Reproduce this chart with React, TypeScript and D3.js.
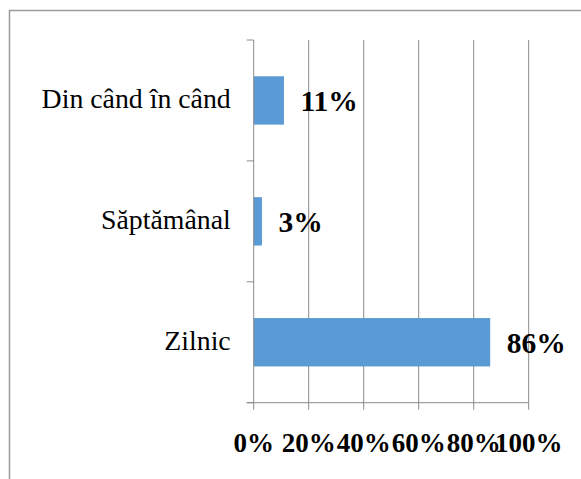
import React from 'react';
import { scaleLinear, scaleBand } from "d3";

const categories = ["Din când în când", "Săptămânal", "Zilnic"];
const values = [11, 3, 86];
const xTicks = [0, 20, 40, 60, 80, 100];

const W = 581;
const H = 479;
const margin = { left: 253.7, right: 52.3, top: 40, bottom: 76.3 };
const gridColor = "#8a8a8a";
const barColor = "#5B9BD5";
const font = "'Liberation Serif', 'Times New Roman', serif";

function App() {
    const plotW = W - margin.left - margin.right;
    const plotH = H - margin.top - margin.bottom;

    const xScale = scaleLinear()
        .domain([0, 100])
        .range([0, plotW]);

    const yScale = scaleBand()
        .domain(categories)
        .range([0, plotH])
        .paddingInner(0.6)
        .paddingOuter(0.3);

    const step = yScale.step();
    // category ticks sit on the band edges
    const yTickPos = categories.map((c, i) => i * step).concat([plotH]);

    return (
        <svg width={W} height={H} style={{ position: "absolute", left: 0, top: 0 }}>
            <rect width={W} height={H} fill="white" />
            <path d={`M9.5,${H} V10.5 H${W}`} fill="none" stroke="#9a9a9a" strokeWidth={1.5} />
            <g transform={`translate(${margin.left},${margin.top})`}>
                {xTicks.slice(1).map(t => (
                    <line key={t} x1={xScale(t)} x2={xScale(t)} y1={0} y2={plotH}
                        stroke={gridColor} strokeWidth={1} />
                ))}
                {values.map((v, i) => (
                    <rect key={categories[i]}
                        x={0}
                        y={yScale(categories[i])}
                        width={xScale(v)}
                        height={yScale.bandwidth()}
                        fill={barColor} />
                ))}
                {/* left axis */}
                <line x1={0} x2={0} y1={0} y2={plotH} stroke={gridColor} strokeWidth={1} />
                {yTickPos.map((y, i) => (
                    <line key={i} x1={-7} x2={0} y1={y} y2={y} stroke={gridColor} strokeWidth={1} />
                ))}
                {/* bottom axis */}
                <line x1={-7} x2={xScale(100)} y1={plotH} y2={plotH} stroke={gridColor} strokeWidth={1} />
                {xTicks.map(t => (
                    <g key={t}>
                        <line x1={xScale(t)} x2={xScale(t)} y1={plotH} y2={plotH + 7}
                            stroke={gridColor} strokeWidth={1} />
                        <text x={xScale(t)} y={plotH + 49.5} textAnchor="middle"
                            fontFamily={font} fontWeight="bold" fontSize={27}>{t}%</text>
                    </g>
                ))}
                {categories.map(c => (
                    <text key={c} x={-23} y={yScale(c) + yScale.bandwidth() / 2 + 8}
                        textAnchor="end" fontFamily={font} fontSize={27.8}>{c}</text>
                ))}
                {values.map((v, i) => (
                    <text key={i} x={xScale(v) + 16.5}
                        y={yScale(categories[i]) + yScale.bandwidth() / 2 + 11}
                        fontFamily={font} fontWeight="bold" fontSize={29.5}>{v}%</text>
                ))}
            </g>
        </svg>
    );
}

export default App;
